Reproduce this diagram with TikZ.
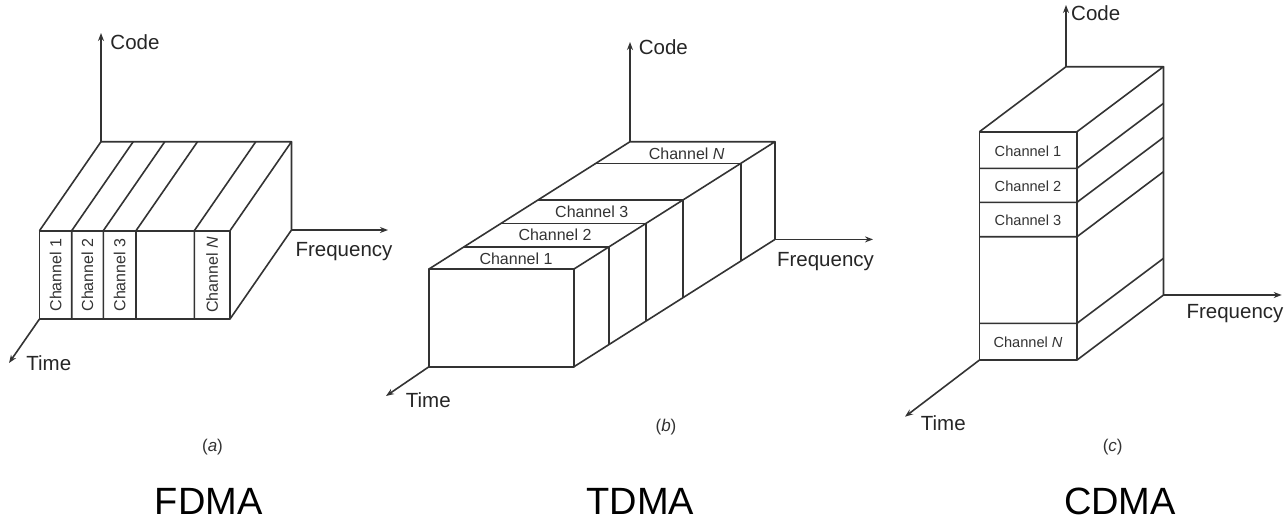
\documentclass[tikz,border=0pt]{standalone}
\usepackage{fontspec}
\setmainfont{Liberation Sans}
\usetikzlibrary{arrows.meta,calc}
\tikzset{
  edge/.style={draw=black!80, line width=1.6pt, line join=round},
  axis/.style={draw=black!80, line width=1.6pt, -{Stealth[length=8pt,width=6pt]}},
  axlabel/.style={inner sep=0pt, text=black!85, font=\fontsize{20.5}{24}\selectfont},
  chlabel/.style={inner sep=0pt, text=black!80, font=\fontsize{16}{19}\selectfont},
  chlabelc/.style={inner sep=0pt, text=black!80, font=\fontsize{14.6}{18}\selectfont},
  sublabel/.style={inner sep=0pt, text=black!80, font=\fontsize{17}{20}\selectfont},
  schemetitle/.style={inner sep=0pt, text=black, font=\fontsize{38}{44}\selectfont},
}
\begin{document}
\begin{tikzpicture}[x=1pt,y=-1pt]
\fill[white] (0,0) rectangle (1287,525);
\useasboundingbox (0,0) rectangle (1287,525);

% ---------------- (a) FDMA: channels side by side along frequency
\coordinate (aFTL) at (39.5,230.7);
\coordinate (aFTR) at (230,230.7);
\coordinate (aFBL) at (39.5,319);
\coordinate (aFBR) at (230,319);
\coordinate (aBTL) at ($(aFTL)+(61.5,-89)$);
\coordinate (aBTR) at ($(aFTR)+(61.5,-89)$);
\coordinate (aBBR) at ($(aFBR)+(61.5,-89)$);
\coordinate (aCode) at (101,33);
\coordinate (aFreq) at (388,230);
\coordinate (aTime) at (9,363);

\draw[edge] (aFTL) -- (aFTR) -- (aFBR) -- (aFBL) -- cycle;
\draw[edge] (aFTL) -- (aBTL) -- (aBTR) -- (aFTR);
\draw[edge] (aBTR) -- (aBBR) -- (aFBR);
\foreach \x [count=\i] in {71.7,103.3,136,194.3} {
  \coordinate (aT\i) at (\x,230.7);
  \coordinate (aB\i) at (\x,319);
  \coordinate (aK\i) at ($(aT\i)+(61.5,-89)$);
  \draw[edge] (aB\i) -- (aT\i) -- (aK\i);
}
\draw[axis] (aBTL) -- (aCode);
\draw[axis] (aBBR) -- (aFreq);
\draw[axis] (aFBL) -- (aTime);

\node[chlabel, rotate=90] (ach1) at (55.6,275) {Channel 1};
\node[chlabel, rotate=90] (ach2) at (87.5,275) {Channel 2};
\node[chlabel, rotate=90] (ach3) at (119.7,275) {Channel 3};
\node[chlabel, rotate=90] (achN) at (212.2,275) {Channel \textit{N}};

\node[axlabel] (acodel) at (135,41.7) {Code};
\node[axlabel] (afreql) at (344,252) {Frequency};
\node[axlabel] (atimel) at (48.8,363.3) {Time};
\node[sublabel] (asub) at (212.5,446.7) {(\textit{a})};
\node[schemetitle] (atitle) at (208.8,501) {FDMA};

% ---------------- (b) TDMA: channels one after another along time
\coordinate (bFTL) at (429,269);
\coordinate (bFTR) at (574,269);
\coordinate (bFBL) at (429,366.7);
\coordinate (bFBR) at (574,366.7);
\coordinate (bBTL) at ($(bFTL)+(201,-127.3)$);
\coordinate (bBTR) at ($(bFTR)+(201,-127.3)$);
\coordinate (bBBR) at ($(bFBR)+(201,-127.3)$);
\coordinate (bCode) at (630,42);
\coordinate (bFreq) at (873,239.4);
\coordinate (bTime) at (386,396);

\draw[edge] (bFTL) -- (bFTR) -- (bFBR) -- (bFBL) -- cycle;
\draw[edge] (bFTL) -- (bBTL) -- (bBTR) -- (bFTR);
\draw[edge] (bBTR) -- (bBBR) -- (bFBR);
\foreach \t [count=\i] in {0.175,0.359,0.542,0.83} {
  \coordinate (bL\i) at ($(bFTL)!\t!(bBTL)$);
  \coordinate (bR\i) at ($(bFTR)!\t!(bBTR)$);
  \coordinate (bD\i) at ($(bFBR)!\t!(bBBR)$);
  \draw[edge] (bL\i) -- (bR\i) -- (bD\i);
}
\draw[axis] (bBTL) -- (bCode);
\draw[axis] (bBBR) -- (bFreq);
\draw[axis] (bFBL) -- (bTime);

\node[chlabel] (bch1) at (516,258.3) {Channel 1};
\node[chlabel] (bch2) at (555,235) {Channel 2};
\node[chlabel] (bch3) at (591.7,211.7) {Channel 3};
\node[chlabel] (bchN) at (686.7,153.3) {Channel \textit{N}};

\node[axlabel] (bcodel) at (663.3,47.3) {Code};
\node[axlabel] (bfreql) at (825.5,262) {Frequency};
\node[axlabel] (btimel) at (428.3,400) {Time};
\node[sublabel] (bsub) at (666,426.7) {(\textit{b})};
\node[schemetitle] (btitle) at (640.5,501) {TDMA};

% ---------------- (c) CDMA: channels stacked along code
\coordinate (cFTL) at (979.5,131.7);
\coordinate (cFTR) at (1077,131.7);
\coordinate (cFBL) at (979.5,360);
\coordinate (cFBR) at (1077,360);
\coordinate (cBTL) at ($(cFTL)+(86.5,-65)$);
\coordinate (cBTR) at ($(cFTR)+(86.5,-65)$);
\coordinate (cBBR) at ($(cFBR)+(86.5,-65)$);
\coordinate (cCode) at (1066,5);
\coordinate (cFreq) at (1281.7,295);
\coordinate (cTime) at (905,416.7);

\draw[edge] (cFTL) -- (cFTR) -- (cFBR) -- (cFBL) -- cycle;
\draw[edge] (cFTL) -- (cBTL) -- (cBTR) -- (cFTR);
\draw[edge] (cBTR) -- (cBBR) -- (cFBR);
\foreach \y [count=\i] in {168.3,202.3,236.7,323.3} {
  \coordinate (cL\i) at (979.5,\y);
  \coordinate (cR\i) at (1077,\y);
  \coordinate (cK\i) at ($(cR\i)+(86.5,-65)$);
  \draw[edge] (cL\i) -- (cR\i) -- (cK\i);
}
\draw[axis] (cBTL) -- (cCode);
\draw[axis] (cBBR) -- (cFreq);
\draw[axis] (cFBL) -- (cTime);

\node[chlabelc] (cch1) at (1028,151.5) {Channel 1};
\node[chlabelc] (cch2) at (1028,186) {Channel 2};
\node[chlabelc] (cch3) at (1028,220.5) {Channel 3};
\node[chlabelc] (cchN) at (1028,342.5) {Channel \textit{N}};

\node[axlabel] (ccodel) at (1095.7,13.3) {Code};
\node[axlabel] (cfreql) at (1235,313.5) {Frequency};
\node[axlabel] (ctimel) at (943.3,423.3) {Time};
\node[sublabel] (csub) at (1112.7,446.7) {(\textit{c})};
\node[schemetitle] (ctitle) at (1120,501) {CDMA};
\end{tikzpicture}
\end{document}
